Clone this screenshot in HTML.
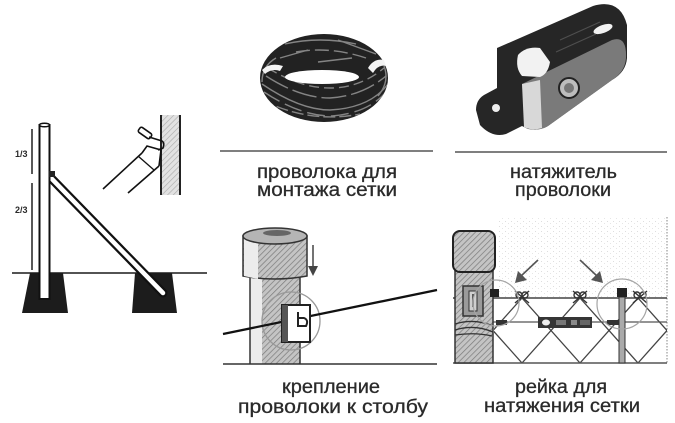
<!DOCTYPE html>
<html><head><meta charset="utf-8"><style>
html,body{margin:0;padding:0;background:#fff;}
svg{display:block;}
text{font-family:"Liberation Sans","DejaVu Sans",sans-serif;fill:#2a2a2a;stroke:#2a2a2a;stroke-width:0.3;}
</style></head><body>
<svg width="675" height="423" viewBox="0 0 675 423" xmlns="http://www.w3.org/2000/svg">
<defs>
<pattern id="hatch" width="4" height="4" patternUnits="userSpaceOnUse" patternTransform="rotate(45)">
<rect width="4" height="4" fill="#c4c4c4"/><line x1="0" y1="0" x2="0" y2="4" stroke="#7a7a7a" stroke-width="1.4"/>
</pattern>
<pattern id="hatchL" width="4" height="4" patternUnits="userSpaceOnUse" patternTransform="rotate(45)">
<rect width="4" height="4" fill="#e2e2e2"/><line x1="0" y1="0" x2="0" y2="4" stroke="#a8a8a8" stroke-width="1.2"/>
</pattern>
<pattern id="stip" width="6" height="5" patternUnits="userSpaceOnUse">
<rect width="6" height="5" fill="#fff"/><rect x="1" y="1" width="1" height="1" fill="#dedede"/><rect x="4" y="3" width="1" height="1" fill="#e6e6e6"/>
</pattern>
<clipPath id="meshclip"><rect x="494" y="298" width="173" height="65"/></clipPath>
<clipPath id="coilclip"><ellipse cx="324" cy="78" rx="64" ry="44"/></clipPath>
</defs>
<rect width="675" height="423" fill="#fff"/>

<!-- ============ LEFT PANEL ============ -->
<line x1="12" y1="273" x2="207" y2="273" stroke="#1a1a1a" stroke-width="1.6"/>
<polygon points="30,273 63,273 68,313 22,313" fill="#1c1c1c"/>
<polygon points="135,273 172,273 177,313 132,313" fill="#1c1c1c"/>
<line x1="51" y1="178" x2="163" y2="293" stroke="#111" stroke-width="9" stroke-linecap="round"/>
<line x1="51" y1="178" x2="163" y2="293" stroke="#fff" stroke-width="4.5" stroke-linecap="round"/>
<rect x="39.5" y="125" width="10" height="174" fill="#fff" stroke="#111" stroke-width="2"/>
<ellipse cx="44.5" cy="125" rx="5" ry="1.8" fill="#fff" stroke="#111" stroke-width="1.5"/>
<rect x="49" y="171" width="6" height="6" fill="#222"/>
<line x1="32" y1="129" x2="32" y2="174" stroke="#111" stroke-width="1.4"/>
<line x1="32" y1="183" x2="32" y2="270" stroke="#111" stroke-width="1.4"/>
<text x="15" y="157" font-size="9" style="font-weight:bold;stroke-width:0">1/3</text>
<text x="15" y="213" font-size="9" style="font-weight:bold;stroke-width:0">2/3</text>
<rect x="161" y="115" width="19" height="80" fill="url(#hatchL)"/>
<line x1="161" y1="115" x2="161" y2="195" stroke="#222" stroke-width="2"/>
<line x1="180" y1="115" x2="180" y2="195" stroke="#222" stroke-width="2"/>
<line x1="103" y1="189" x2="142" y2="153" stroke="#111" stroke-width="1.6"/>
<line x1="128" y1="193" x2="159" y2="166" stroke="#111" stroke-width="1.6"/>
<line x1="138" y1="156" x2="154" y2="170" stroke="#111" stroke-width="1.3"/>
<path d="M142,153 L147,146 L161,150 L159,166" fill="none" stroke="#111" stroke-width="1.6"/>
<rect x="138" y="130" width="14" height="6" rx="2" transform="rotate(35 145 133)" fill="#fff" stroke="#111" stroke-width="1.6"/>
<path d="M149,137 L162,141 Q165,143 163,148 L158,150" fill="none" stroke="#111" stroke-width="1.6"/>

<!-- ============ COIL ============ -->
<ellipse cx="324" cy="78" rx="64" ry="44" fill="#222"/>
<g clip-path="url(#coilclip)" fill="none" stroke="#909090" stroke-width="1.4" opacity="0.9">
<path d="M262,84 Q300,110 330,110 Q370,108 388,84"/>
<path d="M264,92 Q300,116 332,116 Q368,113 386,92" stroke-dasharray="18,6"/>
<path d="M266,76 Q300,98 330,98 Q362,96 386,76" stroke-dasharray="25,5"/>
<path d="M262,100 Q310,124 360,114" stroke-dasharray="12,4"/>
<path d="M268,68 Q300,88 330,88 Q360,88 384,68" stroke-dasharray="10,5"/>
<path d="M285,44 Q320,36 356,44"/>
<path d="M296,52 Q330,46 366,58" stroke-dasharray="14,5"/>
<path d="M280,58 L308,50"/>
<path d="M338,40 L376,54"/>
<path d="M318,62 L352,58"/>
<path d="M262,82 Q262,66 276,58"/>
<path d="M378,96 Q390,82 384,66"/>
</g>
<ellipse cx="322" cy="77" rx="37" ry="7" fill="#fff"/>
<path d="M262,70 Q270,62 283,66 L280,71 Q272,68 265,74 Z" fill="#f4f4f4"/>
<path d="M368,68 Q374,58 384,60 L386,66 Q378,64 373,73 Z" fill="#f4f4f4"/>
<line x1="220" y1="151" x2="433" y2="151" stroke="#555" stroke-width="1.5"/>
<text x="257" y="178" font-size="19" textLength="140" lengthAdjust="spacingAndGlyphs">проволока для</text>
<text x="257" y="196" font-size="19" textLength="140" lengthAdjust="spacingAndGlyphs">монтажа сетки</text>

<!-- ============ TENSIONER ============ -->
<path d="M497,48 L593,6 Q620,-2 627,25 L627,58 Q626,72 612,80 L548,126 Q540,131 528,129 L522,126 L506,134 Q492,138 480,125 L476,110 Q476,100 484,95 L497,88 Z" fill="#262626"/>
<path d="M522,84 L612,40 Q627,35 626,58 Q625,72 612,80 L548,126 Q538,132 526,128 Z" fill="#7a7a7a"/>
<path d="M522,84 L540,80 L542,128 Q532,131 524,127 Z" fill="#d8d8d8"/>
<path d="M518,55 Q526,46 540,48 L550,62 Q548,74 540,77 L522,76 Q515,68 518,55 Z" fill="#f2f2f2"/>
<ellipse cx="603" cy="29" rx="10" ry="4" transform="rotate(-20 603 29)" fill="#f2f2f2"/>
<circle cx="569" cy="88" r="10" fill="#bdbdbd" stroke="#222" stroke-width="2"/>
<circle cx="569" cy="88" r="5" fill="#777"/>
<circle cx="496" cy="108" r="4" fill="#eee"/>
<g stroke="#5a5a5a" stroke-width="1" fill="none" opacity="0.8">
<path d="M560,40 L600,22"/><path d="M556,52 L596,34"/>
</g>
<line x1="455" y1="152" x2="667" y2="152" stroke="#555" stroke-width="1.5"/>
<text x="510" y="178" font-size="19" textLength="107" lengthAdjust="spacingAndGlyphs">натяжитель</text>
<text x="515" y="196" font-size="19" textLength="96" lengthAdjust="spacingAndGlyphs">проволоки</text>

<!-- ============ BOTTOM MIDDLE ============ -->
<rect x="250" y="276" width="50" height="88" fill="url(#hatch)"/>
<rect x="250" y="276" width="12" height="88" fill="#ececec"/>
<line x1="250" y1="276" x2="250" y2="364" stroke="#333" stroke-width="1.5"/>
<line x1="300" y1="276" x2="300" y2="364" stroke="#333" stroke-width="1.5"/>
<path d="M243,236 L243,276 Q275,282 307,276 L307,236 Z" fill="url(#hatch)" stroke="#333" stroke-width="1.5"/>
<path d="M244,237 L258,240 L258,279 L244,276 Z" fill="#ececec"/>
<ellipse cx="275" cy="236" rx="32" ry="8" fill="#b5b5b5" stroke="#333" stroke-width="1.5"/>
<ellipse cx="277" cy="233" rx="14" ry="3" fill="#666"/>
<line x1="223" y1="364" x2="437" y2="364" stroke="#333" stroke-width="1.5"/>
<circle cx="291" cy="321" r="29" fill="none" stroke="#999" stroke-width="1.3"/>
<line x1="223" y1="334" x2="437" y2="290" stroke="#111" stroke-width="2.3"/>
<rect x="282" y="305" width="28" height="37" fill="#fff" stroke="#222" stroke-width="2"/>
<rect x="282" y="305" width="6" height="37" fill="#555"/>
<path d="M298,312 L298,326 L306,326 Q309,320 304,318 L298,318" fill="none" stroke="#222" stroke-width="2"/>
<line x1="313" y1="245" x2="313" y2="268" stroke="#444" stroke-width="1.5"/>
<polygon points="308,266 318,266 313,276" fill="#444"/>
<text x="282" y="393" font-size="19" textLength="98" lengthAdjust="spacingAndGlyphs">крепление</text>
<text x="238" y="413" font-size="19" textLength="190" lengthAdjust="spacingAndGlyphs">проволоки к столбу</text>

<!-- ============ BOTTOM RIGHT ============ -->
<rect x="497" y="217" width="168" height="80" fill="url(#stip)"/>
<line x1="667" y1="217" x2="667" y2="363" stroke="#999" stroke-width="1.2" stroke-dasharray="1.5,1.5"/>
<g clip-path="url(#meshclip)" stroke="#444" stroke-width="1.3">
<line x1="406" y1="298" x2="464" y2="363"/>
<line x1="464" y1="298" x2="522" y2="363"/>
<line x1="522" y1="298" x2="580" y2="363"/>
<line x1="580" y1="298" x2="638" y2="363"/>
<line x1="638" y1="298" x2="696" y2="363"/>
<line x1="522" y1="298" x2="464" y2="363"/>
<line x1="580" y1="298" x2="522" y2="363"/>
<line x1="638" y1="298" x2="580" y2="363"/>
<line x1="696" y1="298" x2="638" y2="363"/>
<line x1="754" y1="298" x2="696" y2="363"/>
</g>
<line x1="453" y1="298" x2="667" y2="298" stroke="#444" stroke-width="1.6"/>
<line x1="493" y1="322" x2="667" y2="322" stroke="#555" stroke-width="1.3"/>
<line x1="453" y1="363" x2="667" y2="363" stroke="#555" stroke-width="1.6"/>
<g fill="none" stroke="#333" stroke-width="1.4">
<circle cx="519" cy="295" r="3"/><circle cx="525" cy="295" r="3"/><path d="M515,303 L529,291 M515,291 L529,303"/>
<circle cx="577" cy="295" r="3"/><circle cx="583" cy="295" r="3"/><path d="M573,303 L587,291 M573,291 L587,303"/>
<circle cx="637" cy="295" r="3"/><circle cx="643" cy="295" r="3"/><path d="M633,303 L647,291 M633,291 L647,303"/>
</g>
<rect x="455" y="268" width="38" height="95" fill="url(#hatch)" stroke="#333" stroke-width="1.5"/>
<rect x="453" y="231" width="42" height="41" rx="7" fill="url(#hatch)" stroke="#222" stroke-width="2"/>
<rect x="463" y="286" width="20" height="30" fill="#9a9a9a" stroke="#333" stroke-width="1.5"/>
<rect x="469" y="291" width="8" height="20" fill="#d0d0d0" stroke="#333" stroke-width="1"/>
<line x1="473" y1="294" x2="473" y2="307" stroke="#333" stroke-width="1.5"/>
<path d="M455,324 Q474,318 493,326 M455,330 Q474,324 493,332 M455,335 Q475,332 492,336" fill="none" stroke="#333" stroke-width="1.3"/>
<rect x="490" y="289" width="9" height="8" fill="#222"/>
<rect x="496" y="320" width="11" height="5" fill="#333"/>
<rect x="538" y="317" width="54" height="11" fill="#353535"/>
<ellipse cx="546" cy="322.5" rx="4" ry="3" fill="#eee"/>
<rect x="556" y="320" width="10" height="5" fill="#777"/>
<rect x="571" y="320" width="6" height="5" fill="#888"/>
<rect x="580" y="320" width="10" height="5" fill="#666"/>
<rect x="619" y="297" width="6" height="66" fill="#aaa" stroke="#333" stroke-width="1"/>
<rect x="617" y="288" width="10" height="9" fill="#222"/>
<rect x="607" y="320" width="12" height="5" fill="#333"/>
<circle cx="496" cy="303" r="23" fill="none" stroke="#a5a5a5" stroke-width="1.2"/>
<circle cx="622" cy="304" r="25" fill="none" stroke="#a5a5a5" stroke-width="1.2"/>
<line x1="538" y1="260" x2="521" y2="276" stroke="#555" stroke-width="1.6"/>
<polygon points="515,283 518,271 527,280" fill="#555"/>
<line x1="580" y1="260" x2="597" y2="276" stroke="#555" stroke-width="1.6"/>
<polygon points="603,283 591,280 600,271" fill="#555"/>
<text x="515" y="393" font-size="19" textLength="92" lengthAdjust="spacingAndGlyphs">рейка для</text>
<text x="484" y="412" font-size="19" textLength="156" lengthAdjust="spacingAndGlyphs">натяжения сетки</text>
</svg>
</body></html>
